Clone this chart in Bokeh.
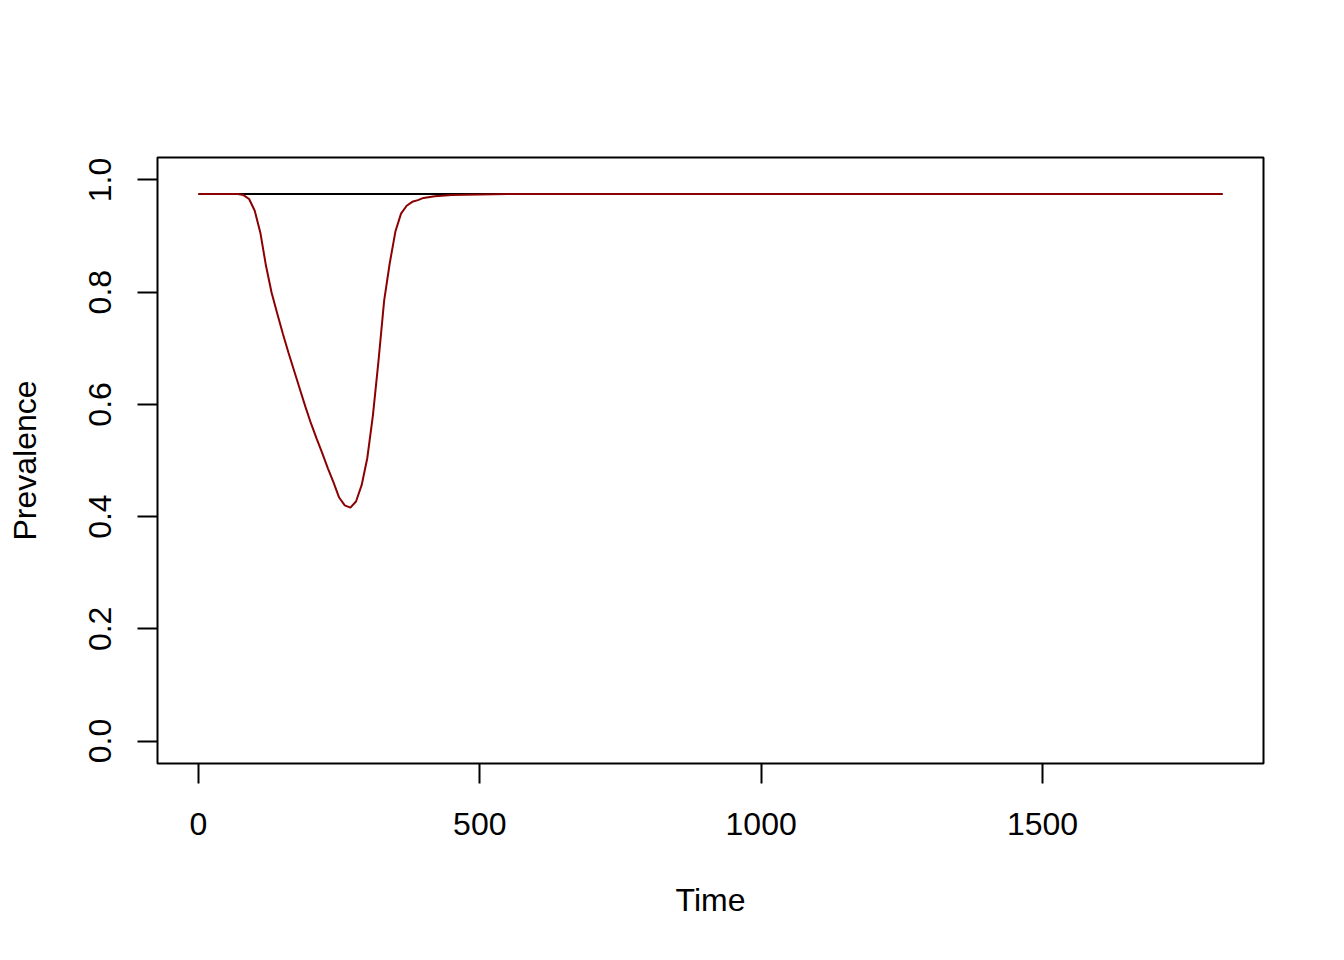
from bokeh.plotting import figure
from bokeh.models import Range1d, FixedTicker
from bokeh.embed import file_html
from bokeh.resources import INLINE

# Baseline (black) series
base_time = [0, 1820]
base_prev = [0.975, 0.975]

# Intervention (dark red) series
red_time = [0, 70, 80, 90, 100, 110, 120, 130, 140, 150, 160, 170, 180, 190,
            200, 210, 220, 230, 240, 250, 260, 270, 280, 290, 300, 310, 320,
            330, 340, 350, 360, 370, 380, 390, 400, 420, 450, 500, 550, 1820]
red_prev = [0.975, 0.975, 0.973, 0.966, 0.945, 0.906, 0.847, 0.799, 0.762,
            0.726, 0.692, 0.660, 0.628, 0.596, 0.566, 0.539, 0.513, 0.486,
            0.461, 0.434, 0.420, 0.416, 0.427, 0.456, 0.504, 0.580, 0.678,
            0.785, 0.852, 0.908, 0.940, 0.954, 0.961, 0.964, 0.968, 0.971,
            0.973, 0.974, 0.975, 0.975]

x_ticks = [0, 500, 1000, 1500]
y_ticks = [0.0, 0.2, 0.4, 0.6, 0.8, 1.0]
y_labels = {0.0: "0.0", 0.2: "0.2", 0.4: "0.4", 0.6: "0.6", 0.8: "0.8", 1.0: "1.0"}

FONT = "Liberation Sans"

p = figure(width=1336, height=952, output_backend="svg", toolbar_location=None,
           x_range=Range1d(-72.8, 1892.8), y_range=Range1d(-0.04, 1.04),
           min_border_left=157, min_border_right=73, min_border_top=157,
           min_border_bottom=189, x_axis_label="Time", y_axis_label="Prevalence")

p.line(base_time, base_prev, line_color="black", line_width=2)
p.line(red_time, red_prev, line_color="#8B0000", line_width=2)

p.grid.visible = False
p.outline_line_color = "black"
p.outline_line_width = 2
p.background_fill_color = "white"
p.border_fill_color = "white"

p.xaxis.ticker = FixedTicker(ticks=x_ticks)
p.yaxis.ticker = FixedTicker(ticks=y_ticks)
p.yaxis.major_label_overrides = y_labels
p.yaxis.major_label_orientation = "parallel"

for ax in (p.xaxis, p.yaxis):
    ax.axis_line_color = None
    ax.major_tick_in = 0
    ax.major_tick_out = 20
    ax.major_tick_line_width = 2
    ax.major_tick_line_color = "black"
    ax.minor_tick_line_color = None
    ax.major_label_text_font = FONT
    ax.major_label_text_font_size = "32px"
    ax.major_label_text_color = "black"
    ax.axis_label_text_font = FONT
    ax.axis_label_text_font_size = "32px"
    ax.axis_label_text_font_style = "normal"
    ax.axis_label_text_color = "black"

p.xaxis.major_label_standoff = 29
p.xaxis.axis_label_standoff = 44
p.yaxis.major_label_standoff = 26
p.yaxis.axis_label_standoff = 44

open("out.html", "w").write(file_html(p, INLINE))
